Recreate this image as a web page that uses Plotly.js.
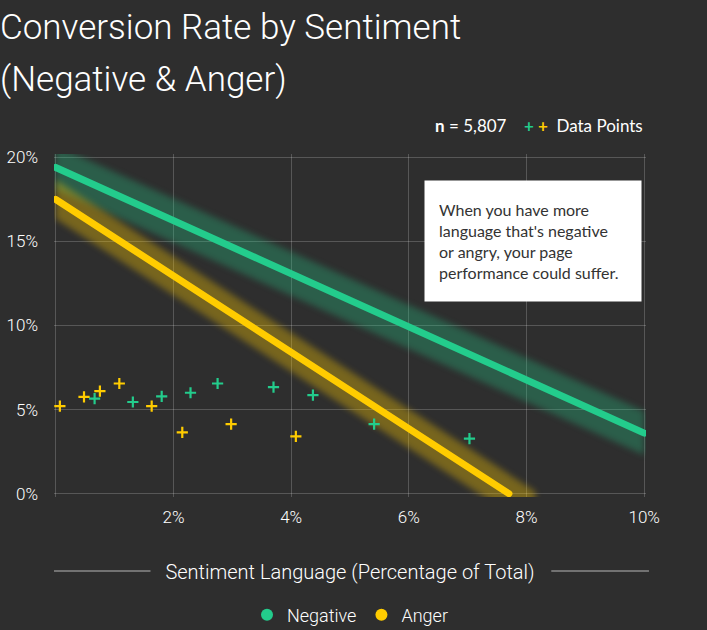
<!DOCTYPE html>
<html>
<head>
<meta charset="utf-8">
<script src="https://cdn.plot.ly/plotly-3.0.1.min.js"></script>
<style>
  html, body { margin: 0; padding: 0; background: #2e2e2e; }
  #chart { width: 707px; height: 630px; }
  .js-line { stroke-linecap: round; }
  .js-fill { filter: blur(3px); }
</style>
</head>
<body>
<div id="chart"></div>
<script>
// ---- data ----
const negX = [0.66, 1.31, 1.80, 2.29, 2.75, 3.70, 4.37, 5.41, 7.03];
const negY = [5.65, 5.45, 5.78, 6.00, 6.55, 6.33, 5.86, 4.13, 3.27];
const angX = [0.07, 0.48, 0.75, 1.08, 1.63, 2.15, 2.98, 4.08];
const angY = [5.20, 5.75, 6.10, 6.55, 5.20, 3.64, 4.13, 3.40];

const negFitX = [0, 10];
const negFitY = [19.4, 3.6];
const angFitX = [0, 7.7];
const angFitY = [17.5, 0];

const seriesNames = ['Negative', 'Anger'];
const xTickVals = [2, 4, 6, 8, 10];
const yTickVals = [0, 5, 10, 15, 20];
const sampleText = 'n = 5,807';
const noteLines = ["When you have more", "language that's negative", "or angry, your page", "performance could suffer."];

// ---- styles ----
const GREEN = '#23cc8c';
const YELLOW = '#ffcc00';
const BG = '#2e2e2e';
const GRID = 'rgba(255,255,255,0.2)';

function bandTraces(fx, fy, half, xEndExtra, rgb, alpha) {
  const slope = (fy[1] - fy[0]) / (fx[1] - fx[0]);
  const x0 = fx[0], x1 = fx[1] + xEndExtra;
  const f = x => fy[0] + slope * (x - fx[0]);
  return [{
    x: [x0, x1, x1, x0, x0],
    y: [f(x0) + half, f(x1) + half, f(x1) - half, f(x0) - half, f(x0) + half],
    mode: 'lines', fill: 'toself', fillcolor: `rgba(${rgb},${alpha})`,
    line: { width: 0 }, hoverinfo: 'skip', showlegend: false
  }];
}

const traces = [
  ...bandTraces(negFitX, negFitY, 1.3, 0, '35,204,140', 0.3),
  ...bandTraces(angFitX, angFitY, 1.15, 0.45, '255,204,0', 0.35),
  { x: negFitX, y: negFitY, mode: 'lines', line: { color: GREEN, width: 7 }, showlegend: false, name: seriesNames[0] },
  { x: angFitX, y: angFitY, mode: 'lines', line: { color: YELLOW, width: 7 }, showlegend: false, name: seriesNames[1] },
  { x: negX, y: negY, mode: 'markers', name: seriesNames[0], showlegend: false,
    marker: { symbol: 'cross-thin', size: 8, line: { color: GREEN, width: 2.2 } } },
  { x: angX, y: angY, mode: 'markers', name: seriesNames[1], showlegend: false,
    marker: { symbol: 'cross-thin', size: 8, line: { color: YELLOW, width: 2.2 } } },
  // legend entries
  { x: [null], y: [null], mode: 'markers', name: seriesNames[0], marker: { symbol: 'circle', size: 13, color: GREEN } },
  { x: [null], y: [null], mode: 'markers', name: seriesNames[1], marker: { symbol: 'circle', size: 13, color: YELLOW } }
];

const titleFont = { family: 'Roboto, sans-serif', weight: 300, color: '#ffffff', size: 35 };
const layout = {
  width: 707, height: 630,
  paper_bgcolor: BG, plot_bgcolor: BG,
  margin: { l: 54, r: 61, t: 154, b: 133, autoexpand: false },
  showlegend: true,
  legend: { orientation: 'h', x: 0.5, xanchor: 'center', y: -0.344, yanchor: 'middle',
    font: { family: 'Roboto, sans-serif', weight: 300, size: 18, color: '#ffffff' },
    itemsizing: 'constant', bgcolor: 'rgba(0,0,0,0)' },
  xaxis: {
    range: [-0.03, 10.03], tickvals: xTickVals, ticktext: xTickVals.map(v => v + '%'),
    showgrid: true, gridcolor: GRID, gridwidth: 1, zeroline: true, zerolinecolor: GRID, zerolinewidth: 1,
    showline: false, ticks: '', ticklabelstandoff: 8, fixedrange: true, automargin: false,
    tickfont: { family: 'Roboto, sans-serif', weight: 300, size: 17, color: '#ffffff' },
    title: { text: 'Sentiment Language (Percentage of Total)', standoff: 38,
      font: { family: 'Roboto, sans-serif', weight: 300, size: 20, color: '#ffffff' } }
  },
  yaxis: {
    range: [-0.2, 20.2], tickvals: yTickVals, ticktext: yTickVals.map(v => v + '%'),
    showgrid: true, gridcolor: GRID, gridwidth: 1, zeroline: false, automargin: false,
    showline: false, ticks: '', ticklabelstandoff: 15, fixedrange: true,
    tickfont: { family: 'Roboto, sans-serif', weight: 300, size: 17, color: '#ffffff' }
  },
  shapes: [
    { type: 'line', xref: 'paper', yref: 'paper', x0: 0, x1: 0.163, y0: -0.216, y1: -0.216,
      line: { color: '#8a8a8a', width: 1.5 } },
    { type: 'line', xref: 'paper', yref: 'paper', x0: 0.84, x1: 1.005, y0: -0.216, y1: -0.216,
      line: { color: '#8a8a8a', width: 1.5 } }
  ],
  annotations: [
    { text: 'Conversion Rate by Sentiment', xref: 'paper', yref: 'paper', x: -0.094, y: 1.37,
      xanchor: 'left', yanchor: 'middle', showarrow: false, font: titleFont },
    { text: '(Negative & Anger)', xref: 'paper', yref: 'paper', x: -0.094, y: 1.218,
      xanchor: 'left', yanchor: 'middle', showarrow: false, font: titleFont },
    { text: '<b>n</b>' + sampleText.slice(1) + '    <b><span style="color:' + GREEN + '">+</span> <span style="color:' + YELLOW + '">+</span></b>  Data Points',
      xref: 'paper', yref: 'paper', x: 0.998, y: 1.082, xanchor: 'right', yanchor: 'middle',
      showarrow: false, font: { family: 'Lato, sans-serif', size: 17, color: '#ffffff' } },
    { text: noteLines.join('<br>'), xref: 'paper', yref: 'paper', x: 0.625, y: 0.924,
      xanchor: 'left', yanchor: 'top', align: 'left', showarrow: false,
      bgcolor: '#ffffff', borderpad: 14, width: 188, height: 92,
      font: { family: 'Lato, sans-serif', size: 16, color: '#333333' } }
  ]
};

Plotly.newPlot('chart', traces, layout, { staticPlot: true, displayModeBar: false });
</script>
</body>
</html>
